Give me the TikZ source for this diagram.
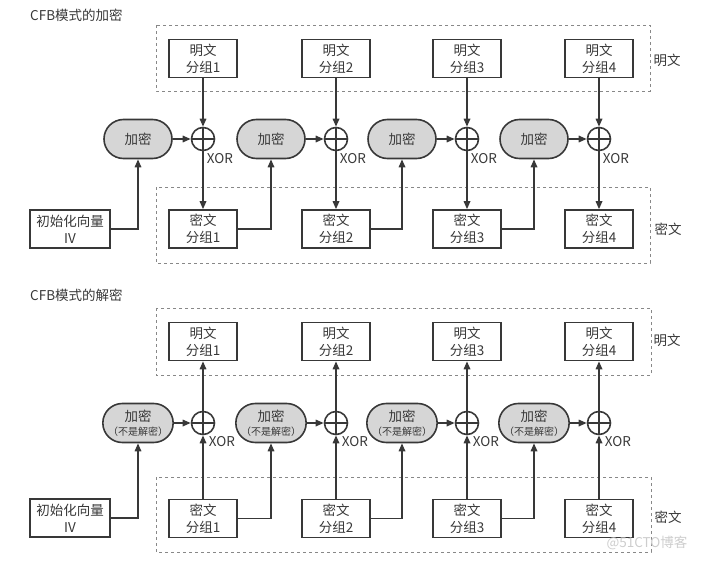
\documentclass[tikz,border=0pt]{standalone}
\usepackage{fontspec}
\setmainfont{Noto Sans CJK SC}
\usetikzlibrary{arrows.meta,shapes.misc}

\definecolor{ink}{HTML}{383838}
\definecolor{encgray}{HTML}{D6D6D6}
\newcommand{\blkfont}{\fontsize{13.5}{17}\selectfont}
\newcommand{\smallnote}{\fontsize{10}{11}\selectfont}

\tikzset{
  blk/.style={draw=ink, line width=1.6pt, minimum width=68pt, minimum height=38pt,
    inner sep=0pt, align=center, font=\blkfont, text=ink},
  enc/.style={rounded rectangle, draw=ink, fill=encgray, line width=1.6pt,
    minimum width=68pt, minimum height=39pt, inner sep=0pt, align=center,
    font=\blkfont, text=ink},
  xorop/.style={circle, draw=ink, line width=1.6pt, minimum size=23pt, inner sep=0pt,
    path picture={\draw[ink, line width=1.6pt]
      (path picture bounding box.north) -- (path picture bounding box.south)
      (path picture bounding box.west) -- (path picture bounding box.east);}},
  lbl/.style={font=\blkfont, text=ink, inner sep=0pt},
  grp/.style={draw=ink!60, dashed, line width=0.6pt},
  flow/.style={draw=ink, line width=1.6pt, -{Triangle[length=8pt,width=6.5pt]}},
}

\begin{document}
\begin{tikzpicture}[x=1pt,y=-1pt]
  \useasboundingbox (0,0) rectangle (707,562);

  % CFB encryption
  \node[lbl, anchor=west] (ttl1) at (30,15) {CFB模式的加密};
  \draw[grp] (156,25) rectangle (650,91);
  \draw[grp] (156,187) rectangle (650,263);
  \node[lbl] (pt1) at (667,60) {明文};
  \node[lbl] (ct1) at (668,229) {密文};
  \node[blk, minimum width=80pt] (iv1) at (70,229) {初始化向量\\IV};
  \foreach \i/\x in {1/203,2/336,3/467,4/599} {
    \node[blk] (p\i) at (\x,58.5) {明文\\分组\i};
    \node[enc] (e\i) at (\x-65,139) {加密};
    \node[xorop] (x\i) at (\x,139) {};
    \node[lbl] (xl\i) at (\x+17,159) {XOR};
    \node[blk] (c\i) at (\x,229) {密文\\分组\i};
    \draw[flow] (p\i) -- (x\i);
    \draw[flow] (e\i) -- (x\i);
    \draw[flow] (x\i) -- (c\i);
  }
  \draw[flow] (iv1.east) -| (e1.south);
  \foreach \i/\j in {1/2,2/3,3/4}
    \draw[flow] (c\i.east) -| (e\j.south);

  % CFB decryption
  \node[lbl, anchor=west] (ttl2) at (30,295) {CFB模式的解密};
  \draw[grp] (156,308) rectangle (651,375);
  \draw[grp] (156,477) rectangle (651,552);
  \node[lbl] (pt2) at (667,340) {明文};
  \node[lbl] (ct2) at (668,517) {密文};
  \node[blk, minimum width=80pt] (iv2) at (70,518) {初始化向量\\IV};
  \foreach \i/\x in {1/203,2/336,3/467,4/599} {
    \node[blk] (dp\i) at (\x,341.5) {明文\\分组\i};
    \node[enc] (de\i) at (\x-65,423) {加密\\[-3pt]{\smallnote （不是解密）}};
    \node[xorop] (dx\i) at (\x,423) {};
    \node[lbl] (dxl\i) at (\x+19,442) {XOR};
    \node[blk] (dc\i) at (\x,518.5) {密文\\分组\i};
    \draw[flow] (dc\i) -- (dx\i);
    \draw[flow] (dx\i) -- (dp\i);
    \draw[flow] (de\i) -- (dx\i);
  }
  \draw[flow] (iv2.east) -| (de1.south);
  \foreach \i/\j in {1/2,2/3,3/4}
    \draw[flow] (dc\i.east) -| (de\j.south);

  \node[lbl, text=ink!25] (wm) at (647,543) {@51CTO博客};
\end{tikzpicture}
\end{document}
